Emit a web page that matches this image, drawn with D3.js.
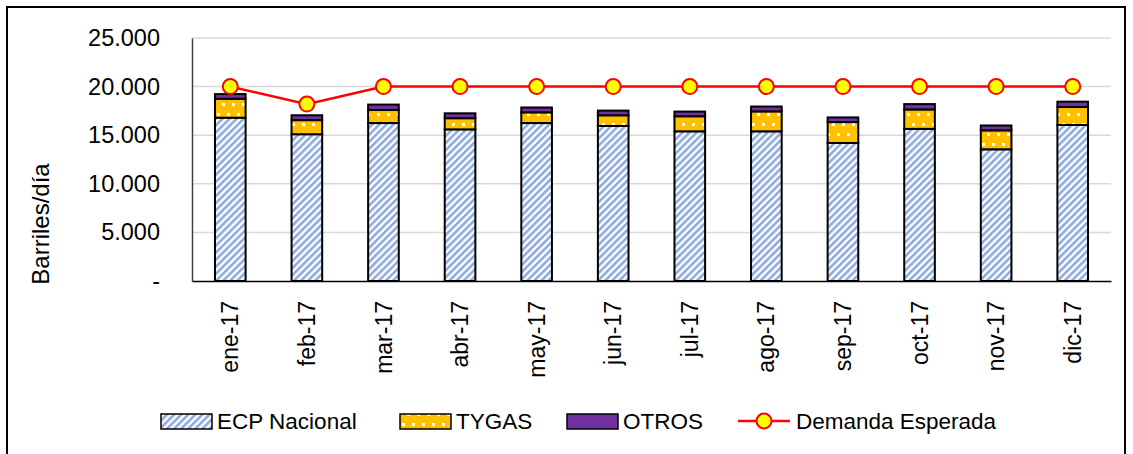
<!DOCTYPE html>
<html>
<head>
<meta charset="utf-8">
<script src="https://cdn.jsdelivr.net/npm/d3@7"></script>
<style>
  body { margin: 0; background: #fff; }
  text { font-family: "Liberation Sans", Arial, sans-serif; fill: #000; }
</style>
</head>
<body>
<svg id="chart" width="1133" height="454"></svg>
<script>
// months on the x axis
const meses = ['ene-17', 'feb-17', 'mar-17', 'abr-17', 'may-17', 'jun-17',
               'jul-17', 'ago-17', 'sep-17', 'oct-17', 'nov-17', 'dic-17']

// barrels per day
const ecpNacional = [16800, 15100, 16250, 15600, 16250, 15950, 15400, 15400, 14200, 15650, 13550, 16050]
const tygas = [1950, 1450, 1350, 1150, 1100, 1100, 1550, 2050, 2150, 2000, 1950, 1850]
const otros = [480, 500, 550, 500, 500, 480, 480, 500, 480, 550, 500, 550]
const demanda = [20000, 18200, 20000, 20000, 20000, 20000, 20000, 20000, 20000, 20000, 20000, 20000]

const yTicks = [0, 5000, 10000, 15000, 20000, 25000]
const seriesNames = ['ECP Nacional', 'TYGAS', 'OTROS']
const lineName = 'Demanda Esperada'

let svg = d3.select('#chart')

// patterns for the bar fills
let defs = svg.append('defs')

let stripes = defs.append('pattern')
    .attr('id', 'stripes')
    .attr('patternUnits', 'userSpaceOnUse')
    .attr('width', 5)
    .attr('height', 5)
    .attr('patternTransform', 'rotate(45)')
stripes.append('rect').attr('width', 5).attr('height', 5).attr('fill', '#ffffff')
stripes.append('rect').attr('width', 2.6).attr('height', 5).attr('fill', '#8eaadb')

let dots = defs.append('pattern')
    .attr('id', 'dots')
    .attr('patternUnits', 'userSpaceOnUse')
    .attr('width', 10)
    .attr('height', 20)
dots.append('rect').attr('width', 10).attr('height', 20).attr('fill', '#ffc000')
dots.append('rect').attr('x', 2).attr('y', 3).attr('width', 3).attr('height', 3).attr('fill', '#fff')
dots.append('rect').attr('x', 7).attr('y', 13).attr('width', 3).attr('height', 3).attr('fill', '#fff')

const fills = ['url(#stripes)', 'url(#dots)', '#7030a0']

// outer frame
svg.append('rect')
    .attr('x', 7).attr('y', 7)
    .attr('width', 1118).attr('height', 470)
    .attr('fill', 'none')
    .attr('stroke', '#000')
    .attr('stroke-width', 2)

const plotLeft = 192, plotRight = 1111, plotTop = 38, plotBottom = 281

let x = d3.scaleBand()
    .domain(meses)
    .range([plotLeft, plotRight])
    .paddingInner(0.6)
    .paddingOuter(0.3)

let y = d3.scaleLinear()
    .domain([0, 25000])
    .range([plotBottom, plotTop])

// gridlines
svg.append('g')
    .selectAll('line')
    .data(yTicks.filter(d => d > 0))
    .enter()
    .append('line')
    .attr('x1', plotLeft).attr('x2', plotRight)
    .attr('y1', d => y(d)).attr('y2', d => y(d))
    .attr('stroke', '#d9d9d9')
    .attr('stroke-width', 1.5)

// y axis labels
let yAxis = svg.append('g')
    .attr('transform', `translate(${plotLeft},0)`)
    .call(d3.axisLeft(y)
        .tickValues(yTicks)
        .tickSize(0)
        .tickPadding(32)
        .tickFormat(d => d === 0 ? '-' : d3.format(',')(d).replace(/,/g, '.')))
yAxis.select('.domain').attr('stroke', '#404040').attr('stroke-width', 1.5)
yAxis.selectAll('text')
    .style('font-size', '23.5px')
    .attr('font-family', '"Liberation Sans", Arial, sans-serif')

// stacked bars
let stackData = meses.map((m, i) => ({
    mes: m, ECP: ecpNacional[i], TYGAS: tygas[i], OTROS: otros[i]
}))
let stacked = d3.stack().keys(['ECP', 'TYGAS', 'OTROS'])(stackData)

svg.append('g')
    .selectAll('g')
    .data(stacked)
    .enter()
    .append('g')
    .attr('fill', (d, i) => fills[i])
    .selectAll('rect')
    .data(d => d)
    .enter()
    .append('rect')
    .attr('x', d => x(d.data.mes))
    .attr('y', d => y(d[1]))
    .attr('width', x.bandwidth())
    .attr('height', d => y(d[0]) - y(d[1]))
    .attr('stroke', '#000')
    .attr('stroke-width', 2)

// x axis
let xAxis = svg.append('g')
    .attr('transform', `translate(0,${plotBottom})`)
    .call(d3.axisBottom(x).tickSize(0).tickPadding(0))
xAxis.select('.domain').attr('stroke', '#000').attr('stroke-width', 1.5)
xAxis.selectAll('text')
    .style('font-size', '23px')
    .attr('font-family', '"Liberation Sans", Arial, sans-serif')
    .attr('text-anchor', 'end')
    .attr('transform', 'translate(0,20) rotate(-90)')
    .attr('x', 0)
    .attr('y', 0)
    .attr('dy', '0.35em')

// expected demand line
let line = d3.line()
    .x((d, i) => x(meses[i]) + x.bandwidth() / 2)
    .y(d => y(d))

svg.append('path')
    .datum(demanda)
    .attr('d', line)
    .attr('fill', 'none')
    .attr('stroke', '#ff0000')
    .attr('stroke-width', 2.5)

svg.append('g')
    .selectAll('circle')
    .data(demanda)
    .enter()
    .append('circle')
    .attr('cx', (d, i) => x(meses[i]) + x.bandwidth() / 2)
    .attr('cy', d => y(d))
    .attr('r', 7.5)
    .attr('fill', '#ffff00')
    .attr('stroke', '#ff0000')
    .attr('stroke-width', 2)

// y axis title
svg.append('text')
    .attr('transform', 'translate(49,224) rotate(-90)')
    .attr('text-anchor', 'middle')
    .style('font-size', '24px')
    .text('Barriles/día')

// legend
const legendY = 421
const swatchX = [161, 400, 567]
seriesNames.forEach((name, i) => {
    svg.append('rect')
        .attr('x', swatchX[i]).attr('y', legendY - 7)
        .attr('width', 51).attr('height', 15)
        .attr('fill', fills[i])
        .attr('stroke', '#000')
        .attr('stroke-width', 1.5)
    svg.append('text')
        .attr('x', swatchX[i] + 56).attr('y', legendY)
        .attr('dy', '0.35em')
        .style('font-size', '22.5px')
        .text(name)
})
svg.append('line')
    .attr('x1', 738).attr('x2', 790)
    .attr('y1', legendY).attr('y2', legendY)
    .attr('stroke', '#ff0000')
    .attr('stroke-width', 2.5)
svg.append('circle')
    .attr('cx', 764).attr('cy', legendY)
    .attr('r', 7.5)
    .attr('fill', '#ffff00')
    .attr('stroke', '#ff0000')
    .attr('stroke-width', 2)
svg.append('text')
    .attr('x', 796).attr('y', legendY)
    .attr('dy', '0.35em')
    .style('font-size', '22.5px')
    .text(lineName)
</script>
</body>
</html>
